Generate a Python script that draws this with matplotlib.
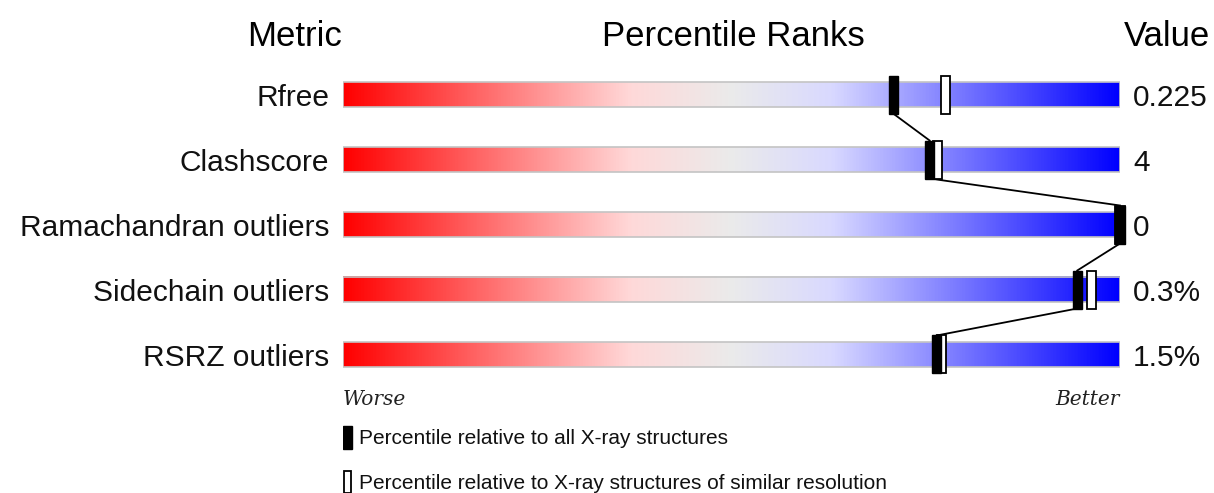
import numpy as np
import matplotlib.pyplot as plt
from matplotlib.colors import LinearSegmentedColormap
from matplotlib.patches import Rectangle

metrics = ["Rfree", "Clashscore", "Ramachandran outliers",
           "Sidechain outliers", "RSRZ outliers"]
values = ["0.225", "4", "0", "0.3%", "1.5%"]
pct_all = [70.8, 75.5, 100, 94.5, 76.4]
pct_similar = [77.5, 76.5, 100, 96.3, 77.0]

legend_all = "Percentile relative to all X-ray structures"
legend_similar = "Percentile relative to X-ray structures of similar resolution"

plt.rcParams['font.family'] = ['Liberation Sans', 'DejaVu Sans']

W, H = 1214, 493
fig = plt.figure(figsize=(W / 100, H / 100), dpi=100)
ax = fig.add_axes([343 / W, 0, 777 / W, 1])
ax.set_xlim(0, 100)
# 65 px between rows, first row 94.5 px from the top
ax.set_ylim((H - 94.5) / 65, -94.5 / 65)
ax.axis("off")

ramp = LinearSegmentedColormap.from_list("ramp", [
    (0.00, (1.0, 0.0, 0.0)),
    (0.37, (1.0, 0.85, 0.85)),
    (0.50, (0.92, 0.92, 0.92)),
    (0.63, (0.85, 0.85, 1.0)),
    (1.00, (0.0, 0.0, 1.0)),
])
grad = np.linspace(0, 1, 512).reshape(1, -1)

bar_h = 25 / 65
mk_h = 38 / 65
mk_w = 1.16

for i, name in enumerate(metrics):
    ax.imshow(grad, cmap=ramp, aspect="auto", interpolation="bilinear",
              extent=(0, 100, i + bar_h / 2, i - bar_h / 2), zorder=1)
    ax.add_patch(Rectangle((0, i - bar_h / 2), 100, bar_h, fill=False,
                           edgecolor="#c4c4c4", lw=1.2, zorder=2))
    ax.text(-1.8, i + 0.06, name, ha="right", va="center", fontsize=21.5,
            color="#111111", clip_on=False)
    ax.text(101.7, i + 0.06, values[i], ha="left", va="center", fontsize=21.5,
            color="#111111", clip_on=False)

# line joining the "all structures" markers
for i in range(len(metrics) - 1):
    ax.plot([pct_all[i], pct_all[i + 1]],
            [i + mk_h / 2, i + 1 - mk_h / 2],
            color="black", lw=1.3, zorder=3, clip_on=False)

for i in range(len(metrics)):
    ax.add_patch(Rectangle((pct_similar[i] - mk_w / 2, i - mk_h / 2), mk_w, mk_h,
                           facecolor="white", edgecolor="black", lw=1.3,
                           zorder=4, clip_on=False))
    ax.add_patch(Rectangle((pct_all[i] - mk_w / 2, i - mk_h / 2), mk_w, mk_h,
                           facecolor="black", edgecolor="black", lw=1.0,
                           zorder=5, clip_on=False))

# column headers
ax.text(-6.2, -0.89, "Metric", ha="center", va="center", fontsize=25)
ax.text(50.3, -0.89, "Percentile Ranks", ha="center", va="center", fontsize=25)
ax.text(106.0, -0.89, "Value", ha="center", va="center", fontsize=25,
        clip_on=False)

# worse / better
ax.text(0, 4.7, "Worse", ha="left", va="center", fontsize=14.5,
        family="DejaVu Serif", style="italic", color="#222222")
ax.text(100, 4.7, "Better", ha="right", va="center", fontsize=14.5,
        family="DejaVu Serif", style="italic", color="#222222")

# key
ax.add_patch(Rectangle((0.0, 5.28 - 0.175), 1.1, 0.35, facecolor="black",
                       edgecolor="black", lw=1.0))
ax.text(2.0, 5.29, legend_all, ha="left", va="center", fontsize=15,
        color="#111111")
ax.add_patch(Rectangle((0.1, 5.96 - 0.17), 0.9, 0.34, facecolor="white",
                       edgecolor="black", lw=1.3, clip_on=False))
ax.text(2.0, 5.98, legend_similar, ha="left", va="center", fontsize=15,
        color="#111111")

fig.savefig("out.png", dpi=100)
